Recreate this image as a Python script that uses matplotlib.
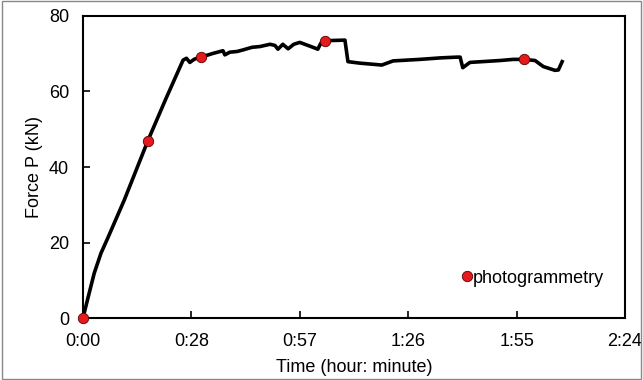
import matplotlib
matplotlib.use('Agg')
import matplotlib.pyplot as plt
from matplotlib.patches import Rectangle

plt.rcParams['font.family'] = ['Liberation Sans', 'DejaVu Sans']

# load curve, time in minutes
time_min = [0, 1.5, 3.0, 4.8, 6.6, 11, 17.3, 22, 26.6, 27.5, 28.4, 29.5, 31.3, 33,
            34.6, 36.5, 37.2, 37.7, 39, 41, 42.5, 44.9, 47, 49.7, 51.0, 51.8, 53.1,
            54.5, 56, 57.6, 60.3, 62.4, 63.2, 64.3, 66, 69.6, 70.4, 73.6, 77.1, 79.4,
            82.4, 89.5, 95, 99.4, 100.2, 100.9, 102.8, 106, 110.8, 114.3, 117.2,
            120.1, 122.3, 125.4, 126.3, 127.3]
force_kn = [0, 6, 11.9, 17.2, 21.2, 31.3, 47.1, 58, 68.3, 68.8, 67.7, 68.5, 69.2, 69.6,
            70.1, 70.6, 70.8, 69.7, 70.4, 70.6, 71.0, 71.7, 71.9, 72.5, 72.2, 71.2, 72.5,
            71.3, 72.5, 73.0, 72.0, 71.2, 72.8, 73.3, 73.5, 73.6, 67.9, 67.5, 67.2, 67.0,
            68.1, 68.5, 68.9, 69.1, 69.1, 66.3, 67.7, 67.9, 68.2, 68.5, 68.5,
            68.2, 66.6, 65.6, 65.7, 67.9]

# photogrammetry points
photo_t = [0, 17.3, 31.3, 64.3, 117.2]
photo_f = [0, 47.0, 69.2, 73.3, 68.5]

xticks = [0, 28.8, 57.6, 86.4, 115.2, 144]
xtick_labels = ['0:00', '0:28', '0:57', '1:26', '1:55', '2:24']

fs = 13

fig = plt.figure(figsize=(6.43, 3.80), dpi=100)
ax = fig.add_axes([0.129, 0.163, 0.843, 0.795])

ax.plot(time_min, force_kn, color='black', linewidth=2.6, solid_joinstyle='round')
ax.plot(photo_t, photo_f, linestyle='none', marker='o', markersize=7.5,
        markerfacecolor='#e41a1c', markeredgecolor='#5a0000', markeredgewidth=0.6,
        label='photogrammetry', clip_on=False, zorder=5)

ax.set_xlim(0, 144)
ax.set_ylim(0, 80)
ax.set_xticks(xticks)
ax.set_xticklabels(xtick_labels)
ax.set_yticks([0, 20, 40, 60, 80])
ax.tick_params(direction='in', length=5, width=1.2, labelsize=fs)
ax.tick_params(axis='x', pad=11)
ax.tick_params(axis='y', pad=10)
for s in ax.spines.values():
    s.set_linewidth(1.5)

ax.set_xlabel('Time (hour: minute)', fontsize=fs, labelpad=6)
ax.set_ylabel('Force P (kN)', fontsize=fs, labelpad=4)

ax.legend(loc='center left', bbox_to_anchor=(0.683, 0.132), frameon=False,
          fontsize=fs, handlelength=0.5, handletextpad=0.1, borderpad=0)

fig.patches.append(Rectangle((0.003, 0.003), 0.994, 0.994, transform=fig.transFigure,
                             fill=False, edgecolor='#888888', linewidth=1))

fig.savefig('out.png', dpi=100)
